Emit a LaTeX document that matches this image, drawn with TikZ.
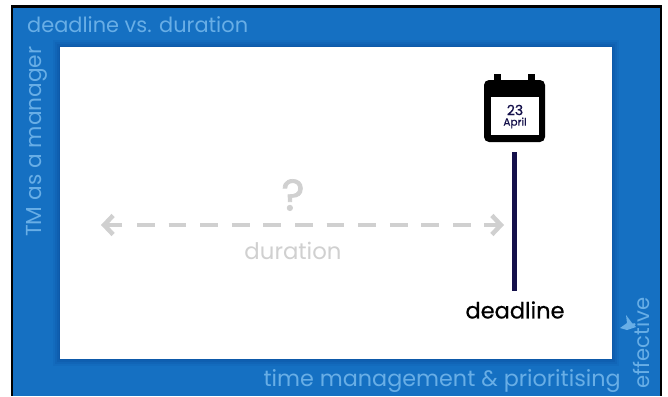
\documentclass[tikz,border=0pt]{standalone}
\usepackage{fontspec}
\setmainfont{Poppins}
\newfontfamily\heavyfont[FakeBold=0.6]{Poppins}
\newfontfamily\queryfont[FakeBold=1.6]{Poppins}
\usepackage{xcolor}
\usetikzlibrary{arrows.meta}
\definecolor{slideblue}{HTML}{1570C2}
\definecolor{edgeblue}{HTML}{0B4F9C}
\definecolor{softblue}{HTML}{68AEE6}
\definecolor{navy}{HTML}{14104A}
\definecolor{softgrey}{HTML}{D0D0D0}
\tikzstyle{slidetitle}=[text=softblue, inner sep=0pt]
\tikzstyle{greylabel}=[text=softgrey, inner sep=0pt]
\tikzstyle{span}=[draw=softgrey, line width=4.5pt, dash pattern=on 17.7pt off 13.9pt]
\tikzstyle{spantip}=[draw=softgrey, line width=4.5pt, -{Straight Barb[length=9pt,width=19pt,line width=4.5pt]}]
\begin{document}
\begin{tikzpicture}[x=1pt,y=-1pt]
\useasboundingbox (0,0) rectangle (668,396);
\fill[white] (0,0) rectangle (668,396);
% slide frame
\fill[black] (11,5) rectangle (662,396);
\fill[slideblue] (13,8) rectangle (660,396);
% soft edge round the panel
\foreach \d/\o in {7/0.12,5/0.18,3/0.25,1/0.35} {
	\fill[edgeblue,opacity=\o] (60-\d,47-\d) rectangle (612+\d,359+\d);
}
\fill[white] (60,47) rectangle (612,359);
% calendar
\fill[black] (494,74) rectangle (501,84);
\fill[black] (528,74) rectangle (535,84);
\fill[black,rounded corners=5pt] (484,80) rectangle (545,142);
\fill[white] (491,97) rectangle (539,135);
\node[text=navy,font=\fontsize{14}{14}\selectfont\heavyfont,inner sep=0pt] (day) at (515,110) {23};
\node[text=navy,font=\fontsize{10.5}{11}\selectfont\heavyfont,inner sep=0pt] (month) at (515,123) {April};
% deadline
\coordinate (top) at (514.5,152);
\coordinate (foot) at (514.5,291);
\draw[navy,line width=5pt] (top) -- (foot);
\node[text=black,font=\fontsize{22.5}{23}\selectfont\heavyfont,inner sep=0pt] (deadline) at (515,310) {deadline};
% duration
\coordinate (left) at (101,225);
\coordinate (leftgap) at (122,225);
\coordinate (right) at (504,225);
\coordinate (rightgap) at (484,225);
\coordinate (spanstart) at (137,225);
\coordinate (spanend) at (471,225);
\draw[spantip] (leftgap) -- (left);
\draw[spantip] (rightgap) -- (right);
\draw[span] (spanstart) -- (spanend);
\node[greylabel,font=\fontsize{44}{44}\selectfont\queryfont] (query) at (293,195) {?};
\node[greylabel,font=\fontsize{22.8}{23}\selectfont] (duration) at (293,251) {duration};
% slide texts
\node[slidetitle,anchor=west,font=\fontsize{20.9}{21}\selectfont] (title) at (27,25) {deadline vs. duration};
\node[slidetitle,rotate=90,anchor=west,font=\fontsize{21.7}{22}\selectfont] (section) at (37,237) {TM as a manager};
\node[slidetitle,anchor=east,font=\fontsize{22.3}{23}\selectfont] (course) at (621,381) {time management \& prioritising};
\node[slidetitle,rotate=90,font=\fontsize{21.2}{22}\selectfont] (brand) at (641,343) {effective};
\fill[softblue] (626,315) -- (632,323) -- (636,327) -- (627,330) -- (620,328) -- (627,323) -- cycle;
\end{tikzpicture}
\end{document}
